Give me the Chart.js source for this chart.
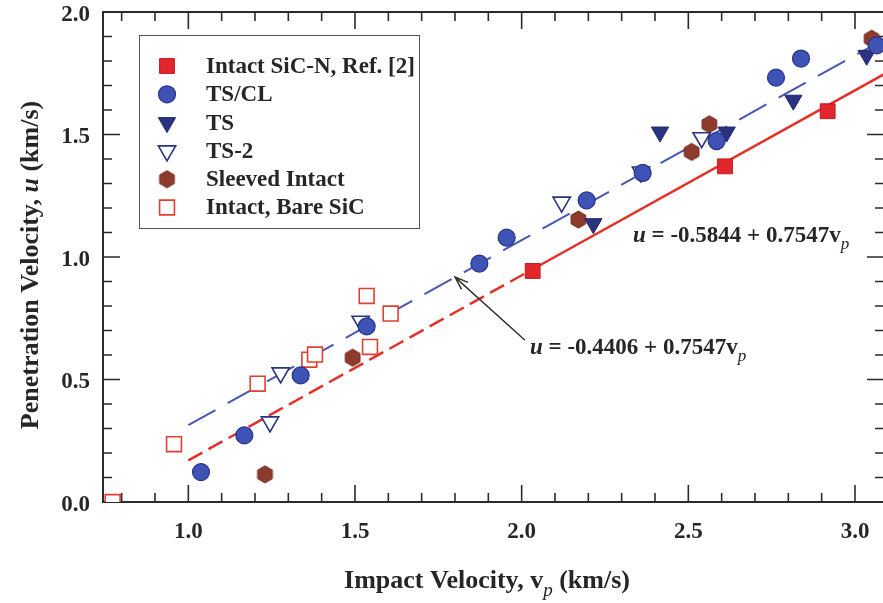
<!DOCTYPE html>
<html>
<head>
<meta charset="utf-8">
<script src="https://cdn.jsdelivr.net/npm/chart.js@4.4.1/dist/chart.umd.min.js"></script>
<style>
html, body { margin: 0; padding: 0; background: #fff; overflow: hidden; }
#wrap { width: 886px; height: 603px; }
</style>
</head>
<body>
<div id="wrap"><canvas id="grafico" width="886" height="603"></canvas></div>
<script>
// valores (km/s)
const intactRefX = [2.033, 2.610, 2.918];
const intactRefY = [0.943, 1.370, 1.595];

const tsclX = [1.038, 1.168, 1.337, 1.535, 1.873, 1.955, 2.195, 2.363, 2.585, 2.763, 2.838, 3.065];
const tsclY = [0.122, 0.272, 0.517, 0.717, 0.973, 1.079, 1.231, 1.343, 1.473, 1.732, 1.810, 1.864];

const tsX = [2.215, 2.415, 2.615, 2.815, 3.035];
const tsY = [1.136, 1.510, 1.510, 1.640, 1.823];

const ts2X = [1.245, 1.277, 1.517, 2.120, 2.358, 2.540];
const ts2Y = [0.327, 0.527, 0.738, 1.224, 1.347, 1.487];

const sleevedX = [1.230, 1.493, 2.170, 2.510, 2.563, 3.050];
const sleevedY = [0.113, 0.589, 1.153, 1.429, 1.542, 1.891];

const bareX = [0.773, 0.957, 1.208, 1.363, 1.380, 1.535, 1.545, 1.607];
const bareY = [0.000, 0.236, 0.483, 0.581, 0.602, 0.841, 0.633, 0.769];

// retas de ajuste (pontos extremos)
const redFitX = [1.0, 2.033, 3.09];
const redFitY = [0.170, 0.950, 1.748];
const blueFitX = [1.0, 3.09];
const blueFitY = [0.314, 1.891];

const xTicks = [1.0, 1.5, 2.0, 2.5, 3.0];
const yTicks = [0.0, 0.5, 1.0, 1.5, 2.0];

const legendLabels = ['Intact SiC-N, Ref. [2]', 'TS/CL', 'TS', 'TS-2', 'Sleeved Intact', 'Intact, Bare SiC'];
const eqRed = ['-0.5844', '0.7547'];
const eqBlue = ['-0.4406', '0.7547'];

const FONTE = "'Liberation Serif', 'Times New Roman', serif";
const COR_TEXTO = '#262626';

function pares(xs, ys) {
	return xs.map((x, i) => ({ x: x, y: ys[i] }));
}

// hexagono (vertice para cima) como imagem para pointStyle
function montaHexagono(r, fill, stroke) {
	const c = document.createElement('canvas');
	const w = Math.ceil(r * 2) + 2;
	c.width = w;
	c.height = w;
	const g = c.getContext('2d');
	g.beginPath();
	for (let i = 0; i < 6; i++) {
		const a = Math.PI / 3 * i - Math.PI / 2;
		g.lineTo(w / 2 + r * Math.cos(a), w / 2 + r * Math.sin(a));
	}
	g.closePath();
	g.fillStyle = fill;
	g.fill();
	g.strokeStyle = stroke;
	g.lineWidth = 1;
	g.stroke();
	return c;
}

const hexagono = montaHexagono(8.5, '#8e3a2c', '#6a2419');

// escreve texto com partes de estilos diferentes
function escreveMisto(ctx, partes, x, y, alinhamento) {
	let total = 0;
	partes.forEach(p => { ctx.font = p.font; total += ctx.measureText(p.t).width; });
	let cx = x;
	if (alinhamento === 'center') cx = x - total / 2;
	ctx.textAlign = 'left';
	ctx.textBaseline = 'alphabetic';
	partes.forEach(p => {
		ctx.font = p.font;
		ctx.fillText(p.t, cx, y + (p.dy || 0));
		cx += ctx.measureText(p.t).width;
	});
}

function partesEquacao(coefs, tam) {
	return [
		{ t: 'u', font: `italic bold ${tam}px ${FONTE}` },
		{ t: ` = ${coefs[0]} + ${coefs[1]}v`, font: `bold ${tam}px ${FONTE}` },
		{ t: 'p', font: `italic ${tam - 6}px ${FONTE}`, dy: 7 }
	];
}

// moldura com ticks para dentro nos quatro lados
const molduraPlugin = {
	id: 'moldura',
	beforeDatasetsDraw(chart) {
		const ctx = chart.ctx;
		const { left, right, top, bottom } = chart.chartArea;
		const sx = chart.scales.x, sy = chart.scales.y;
		ctx.save();
		ctx.strokeStyle = '#2b2b2b';
		ctx.lineWidth = 2;
		ctx.strokeRect(left, top, right - left, bottom - top);
		ctx.lineWidth = 1.6;
		ctx.beginPath();
		for (let k = 8; k <= 30; k++) {
			const px = sx.getPixelForValue(k / 10);
			const len = k % 5 === 0 ? 17 : 9;
			ctx.moveTo(px, bottom); ctx.lineTo(px, bottom - len);
			ctx.moveTo(px, top); ctx.lineTo(px, top + len);
		}
		for (let k = 1; k < 20; k++) {
			const py = sy.getPixelForValue(k / 10);
			const len = k % 5 === 0 ? 17 : 9;
			ctx.moveTo(left, py); ctx.lineTo(left + len, py);
			ctx.moveTo(right, py); ctx.lineTo(right - len, py);
		}
		ctx.stroke();
		ctx.restore();
	}
};

const legendaPlugin = {
	id: 'legendaCaixa',
	afterDraw(chart) {
		const ctx = chart.ctx;
		ctx.save();
		ctx.fillStyle = '#fff';
		ctx.fillRect(139.5, 35.5, 280, 193);
		ctx.strokeStyle = '#555';
		ctx.lineWidth = 1;
		ctx.strokeRect(139.5, 35.5, 280, 193);
		legendLabels.forEach((txt, i) => {
			const ds = chart.data.datasets[i];
			const y = 66 + i * 28.3;
			ctx.fillStyle = ds.backgroundColor;
			ctx.strokeStyle = ds.borderColor;
			ctx.lineWidth = ds.pointBorderWidth;
			Chart.helpers.drawPoint(ctx, {
				pointStyle: ds.pointStyle,
				rotation: ds.pointRotation || 0,
				radius: ds.pointRadius,
				borderWidth: ds.pointBorderWidth
			}, 167, y);
			ctx.fillStyle = COR_TEXTO;
			ctx.font = `bold 23px ${FONTE}`;
			ctx.textAlign = 'left';
			ctx.textBaseline = 'middle';
			ctx.fillText(txt, 206, y + 1);
		});
		ctx.restore();
	}
};

const anotacoesPlugin = {
	id: 'anotacoes',
	afterDraw(chart) {
		const ctx = chart.ctx;
		const sx = chart.scales.x, sy = chart.scales.y;
		ctx.save();
		ctx.fillStyle = COR_TEXTO;

		// equacoes
		escreveMisto(ctx, partesEquacao(eqRed, 23), sx.getPixelForValue(2.334), sy.getPixelForValue(1.061), 'left');
		escreveMisto(ctx, partesEquacao(eqBlue, 23), sx.getPixelForValue(2.025), sy.getPixelForValue(0.606), 'left');

		// seta apontando a reta azul
		const x0 = sx.getPixelForValue(2.010), y0 = sy.getPixelForValue(0.660);
		const x1 = sx.getPixelForValue(1.800), y1 = sy.getPixelForValue(0.918);
		const ang = Math.atan2(y0 - y1, x0 - x1);
		ctx.strokeStyle = '#333';
		ctx.lineWidth = 1.5;
		ctx.beginPath();
		ctx.moveTo(x0, y0);
		ctx.lineTo(x1, y1);
		ctx.moveTo(x1 + 14 * Math.cos(ang - 0.35), y1 + 14 * Math.sin(ang - 0.35));
		ctx.lineTo(x1, y1);
		ctx.lineTo(x1 + 14 * Math.cos(ang + 0.35), y1 + 14 * Math.sin(ang + 0.35));
		ctx.stroke();

		// titulos dos eixos
		escreveMisto(ctx, [
			{ t: 'Impact Velocity, v', font: `bold 26px ${FONTE}` },
			{ t: 'p', font: `italic 19px ${FONTE}`, dy: 8 },
			{ t: ' (km/s)', font: `bold 26px ${FONTE}` }
		], 487, 588, 'center');

		ctx.translate(38, 265);
		ctx.rotate(-Math.PI / 2);
		escreveMisto(ctx, [
			{ t: 'Penetration Velocity, ', font: `bold 26px ${FONTE}` },
			{ t: 'u', font: `italic bold 26px ${FONTE}` },
			{ t: ' (km/s)', font: `bold 26px ${FONTE}` }
		], 0, 0, 'center');
		ctx.restore();
	}
};

const fonteTicks = { family: FONTE, size: 23, weight: 'bold' };

// remove as margens extras que o Chart.js reserva para os rotulos das pontas
function semMargens(s) {
	s.paddingLeft = 0;
	s.paddingRight = 0;
	s.paddingTop = 0;
	s.paddingBottom = 0;
}

function montaChart() {
	const ctx = document.getElementById('grafico').getContext('2d');
	return new Chart(ctx, {
		type: 'scatter',
		data: {
			datasets: [
				{
					label: legendLabels[0],
					data: pares(intactRefX, intactRefY),
					pointStyle: 'rect',
					pointRadius: 10.5,
					backgroundColor: '#e3262b',
					borderColor: '#c41c22',
					pointBorderWidth: 1
				},
				{
					label: legendLabels[1],
					data: pares(tsclX, tsclY),
					pointStyle: 'circle',
					pointRadius: 8.5,
					backgroundColor: '#3f53b6',
					borderColor: '#26338a',
					pointBorderWidth: 1.2
				},
				{
					label: legendLabels[2],
					data: pares(tsX, tsY),
					pointStyle: 'triangle',
					pointRotation: 180,
					pointRadius: 10,
					backgroundColor: '#29337f',
					borderColor: '#222a6e',
					pointBorderWidth: 1
				},
				{
					label: legendLabels[3],
					data: pares(ts2X, ts2Y),
					pointStyle: 'triangle',
					pointRotation: 180,
					pointRadius: 10,
					backgroundColor: '#ffffff',
					borderColor: '#29337f',
					pointBorderWidth: 1.6
				},
				{
					label: legendLabels[4],
					data: pares(sleevedX, sleevedY),
					pointStyle: hexagono,
					pointRadius: 8.5,
					backgroundColor: '#8e3a2c',
					borderColor: '#6a2419',
					pointBorderWidth: 1
				},
				{
					label: legendLabels[5],
					data: pares(bareX, bareY),
					pointStyle: 'rect',
					pointRadius: 10.5,
					backgroundColor: '#ffffff',
					borderColor: '#e2402f',
					pointBorderWidth: 1.6
				},
				{
					label: 'ajuste vermelho',
					type: 'line',
					data: pares(redFitX, redFitY),
					showLine: true,
					pointRadius: 0,
					borderColor: '#e5302a',
					borderWidth: 2.5,
					segment: {
						borderDash: c => c.p0DataIndex === 0 ? [16, 7] : undefined
					}
				},
				{
					label: 'ajuste azul',
					type: 'line',
					data: pares(blueFitX, blueFitY),
					showLine: true,
					pointRadius: 0,
					borderColor: '#4a56b5',
					borderWidth: 2,
					borderDash: [31, 14]
				}
			]
		},
		options: {
			responsive: false,
			animation: false,
			layout: { autoPadding: false, padding: { top: 12, right: 2, left: 0, bottom: 0 } },
			scales: {
				x: {
					type: 'linear',
					min: 0.744,
					max: 3.087,
					afterBuildTicks: s => { s.ticks = xTicks.map(v => ({ value: v })); },
					afterFit: s => { s.height = 101; semMargens(s); },
					grid: { display: false, drawTicks: false },
					border: { display: false },
					ticks: { font: fonteTicks, color: COR_TEXTO, padding: 16, callback: v => v.toFixed(1) }
				},
				y: {
					type: 'linear',
					min: 0,
					max: 2.0,
					afterBuildTicks: s => { s.ticks = yTicks.map(v => ({ value: v })); },
					afterFit: s => { s.width = 103; semMargens(s); },
					grid: { display: false, drawTicks: false },
					border: { display: false },
					ticks: { font: fonteTicks, color: COR_TEXTO, padding: 13, labelOffset: 3, callback: v => v.toFixed(1) }
				}
			},
			plugins: {
				legend: { display: false },
				tooltip: { enabled: false }
			}
		},
		plugins: [molduraPlugin, legendaPlugin, anotacoesPlugin]
	});
}

window.onload = () => {
	montaChart();
}
</script>
</body>
</html>
